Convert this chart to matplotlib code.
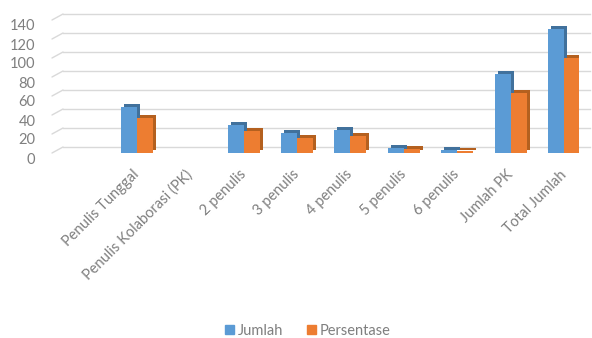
import matplotlib
matplotlib.use("Agg")
import matplotlib.pyplot as plt
import numpy as np
from matplotlib.transforms import offset_copy, ScaledTranslation
from matplotlib.patches import Patch

plt.rcParams["font.family"] = ["Lato", "DejaVu Sans"]

categories = ["Penulis Tunggal", "Penulis Kolaborasi (PK)", "2 penulis", "3 penulis",
              "4 penulis", "5 penulis", "6 penulis", "Jumlah PK", "Total Jumlah"]
jumlah = [48, np.nan, 30, 21, 24, 5, 3, 83, 131]
persentase = [36.6, np.nan, 22.9, 16.0, 18.3, 3.8, 2.3, 63.4, 100]
series_names = ["Jumlah", "Persentase"]
y_ticks = [0, 20, 40, 60, 80, 100, 120, 140]

blue, blue_dark = "#5B9BD5", "#41719C"
orange, orange_dark = "#ED7D31", "#B4601F"
grid_c = "#D9D9D9"
text_c = "#7F7F7F"

W, H = 592, 338
fig = plt.figure(figsize=(W / 100, H / 100), dpi=100)
ax = fig.add_axes([52 / W, (H - 153) / H, (579 - 52) / W, 133 / H])
xmin, xmax = -1.59, 8.28
ax.set_xlim(xmin, xmax)
ax.set_ylim(0, 140)
for s in ax.spines.values():
    s.set_visible(False)

x = np.arange(len(categories))
w = 0.30

# back-wall gridlines (3D look)
back = offset_copy(ax.transData, fig=fig, x=11, y=6, units="dots")
for v in y_ticks:
    ax.plot([xmin, xmax], [v, v], color=grid_c, lw=1, transform=back, zorder=0, clip_on=False)
    ax.annotate("", xy=(xmin, v), xytext=(11, 6), textcoords="offset pixels",
                arrowprops=dict(arrowstyle="-", color=grid_c, lw=1, shrinkA=0, shrinkB=0),
                annotation_clip=False, zorder=0)

depth = offset_copy(ax.transData, fig=fig, x=3, y=3, units="dots")
ax.bar(x - w / 2, jumlah, w, color=blue_dark, transform=depth, zorder=2)
ax.bar(x - w / 2, jumlah, w, color=blue, zorder=3)
ax.bar(x + w / 2, persentase, w, color=orange_dark, transform=depth, zorder=4)
ax.bar(x + w / 2, persentase, w, color=orange, zorder=5)

ax.set_yticks(y_ticks)
ax.tick_params(axis="y", length=0, pad=12, labelsize=10.5, labelcolor=text_c)
for lbl in ax.get_yticklabels():
    lbl.set_transform(lbl.get_transform() + ScaledTranslation(0, -0.05, fig.dpi_scale_trans))

ax.set_xticks(x)
ax.set_xticklabels(categories, rotation=45, ha="right", va="center", rotation_mode="anchor")
ax.tick_params(axis="x", length=0, pad=14, labelsize=10.5, labelcolor=text_c)

handles = [Patch(color=blue), Patch(color=orange)]
fig.legend(handles, series_names, loc="center", bbox_to_anchor=(308 / W, 1 - 331 / H),
           ncol=2, frameon=False, handlelength=0.6, handleheight=0.6, handletextpad=0.3,
           columnspacing=1.6, fontsize=10.5, labelcolor=text_c)

fig.savefig("out.png", dpi=100)
